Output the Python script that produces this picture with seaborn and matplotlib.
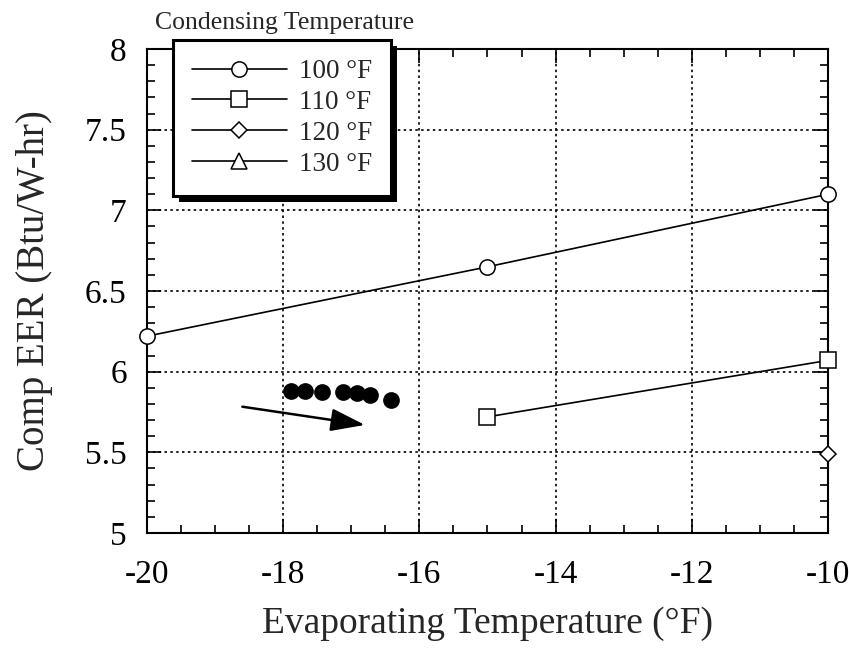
import matplotlib
matplotlib.use("Agg")
import matplotlib.pyplot as plt
from matplotlib.lines import Line2D
from matplotlib.patches import Rectangle
from matplotlib.ticker import MultipleLocator
import numpy as np
import pandas as pd
import seaborn as sns

# Compressor EER vs evaporating temperature, by condensing temperature
evap_100 = [-20, -15, -10]
eer_100 = [6.22, 6.65, 7.10]
evap_110 = [-15, -10]
eer_110 = [5.72, 6.07]
evap_120 = [-10]
eer_120 = [5.49]
evap_130 = []
eer_130 = []

# measured operating points (filled dots)
meas_evap = [-17.89, -17.68, -17.43, -17.12, -16.92, -16.73, -16.42]
meas_eer = [5.88, 5.88, 5.876, 5.876, 5.866, 5.856, 5.825]

series_labels = ["100 °F", "110 °F", "120 °F", "130 °F"]
series_markers = ["o", "s", "D", "^"]
x_ticks = [-20, -18, -16, -14, -12, -10]
y_ticks = [5, 5.5, 6, 6.5, 7, 7.5, 8]
y_tick_labels = ["5", "5.5", "6", "6.5", "7", "7.5", "8"]

sns.set_style("ticks")
plt.rcParams["font.family"] = ["Liberation Serif", "DejaVu Serif"]

fig = plt.figure(figsize=(8.49, 6.52), dpi=100)
ax = fig.add_axes([0.1731, 0.1825, 0.8022, 0.7423])

series = [(evap_100, eer_100), (evap_110, eer_110), (evap_120, eer_120), (evap_130, eer_130)]
handles = []
for (xs, ys), lab, mk in zip(series, series_labels, series_markers):
    ms = 11 if mk != "D" else 8
    if len(xs):
        df = pd.DataFrame({"x": xs, "y": ys})
        sns.lineplot(data=df, x="x", y="y", ax=ax, color="black", linewidth=1.2,
                     marker=mk, markersize=ms, markerfacecolor="white",
                     markeredgecolor="black", markeredgewidth=1.1, clip_on=False,
                     zorder=5)
    handles.append(Line2D([], [], color="black", linewidth=1.2, marker=mk,
                          markersize=ms, markerfacecolor="white",
                          markeredgecolor="black", markeredgewidth=1.1, label=lab))

mdf = pd.DataFrame({"x": meas_evap, "y": meas_eer})
sns.scatterplot(data=mdf, x="x", y="y", ax=ax, color="black", s=145,
                edgecolor="black", linewidth=0, zorder=6)

# trend arrow
ax.annotate("", xy=(-16.8, 5.67), xytext=(-18.6, 5.783),
            arrowprops=dict(arrowstyle="-|>,head_length=2.1,head_width=0.7",
                            color="black", lw=1.8, shrinkA=0, shrinkB=0))

ax.set_xlim(-20, -10)
ax.set_ylim(5, 8)
ax.xaxis.set_minor_locator(MultipleLocator(0.5))
ax.yaxis.set_minor_locator(MultipleLocator(0.1))
ax.set_xticks(x_ticks)
ax.set_xticklabels([str(v) for v in x_ticks])
ax.set_yticks(y_ticks)
ax.set_yticklabels(y_tick_labels)

ax.tick_params(which="both", direction="in", top=True, right=True, colors="black",
               labelsize=24, width=1.2)
ax.tick_params(which="major", length=10)
ax.tick_params(which="minor", length=6)
ax.tick_params(axis="y", which="major", pad=14.5)
ax.tick_params(axis="x", which="major", pad=19)
for sp in ax.spines.values():
    sp.set_color("black")
    sp.set_linewidth(1.5)

ax.grid(True, which="major", linestyle=(0, (1.5, 2)), color="black", linewidth=1.2)
ax.set_axisbelow(True)

ax.set_xlabel("Evaporating Temperature (°F)", fontsize=27, labelpad=12)
ax.set_ylabel("Comp EER (Btu/W-hr)", fontsize=28, labelpad=23)

leg = ax.legend(handles=handles, loc="upper left", bbox_to_anchor=(0.038, 1.0186),
                borderaxespad=0, frameon=True, fontsize=19.5, handlelength=3.5,
                handletextpad=0.45, labelspacing=0.22, borderpad=0.7, fancybox=False)
leg.get_frame().set_edgecolor("black")
leg.get_frame().set_linewidth(2.2)
leg.get_frame().set_facecolor("white")
leg.get_frame().set_alpha(1)
leg.set_zorder(10)

fig.text(0.183, 0.964, "Condensing Temperature", fontsize=18.5, ha="left", va="center")

# solid drop shadow behind the legend box
fig.canvas.draw()
bb = leg.get_window_extent().transformed(fig.transFigure.inverted())
off_x, off_y = 6 / 849, 6 / 652
shadow = Rectangle((bb.x0 + off_x, bb.y0 - off_y), bb.width, bb.height,
                   transform=fig.transFigure, facecolor="black", edgecolor="none",
                   zorder=9)
ax.add_artist(shadow)
shadow.set_clip_on(False)

fig.savefig("out.png", dpi=100)
